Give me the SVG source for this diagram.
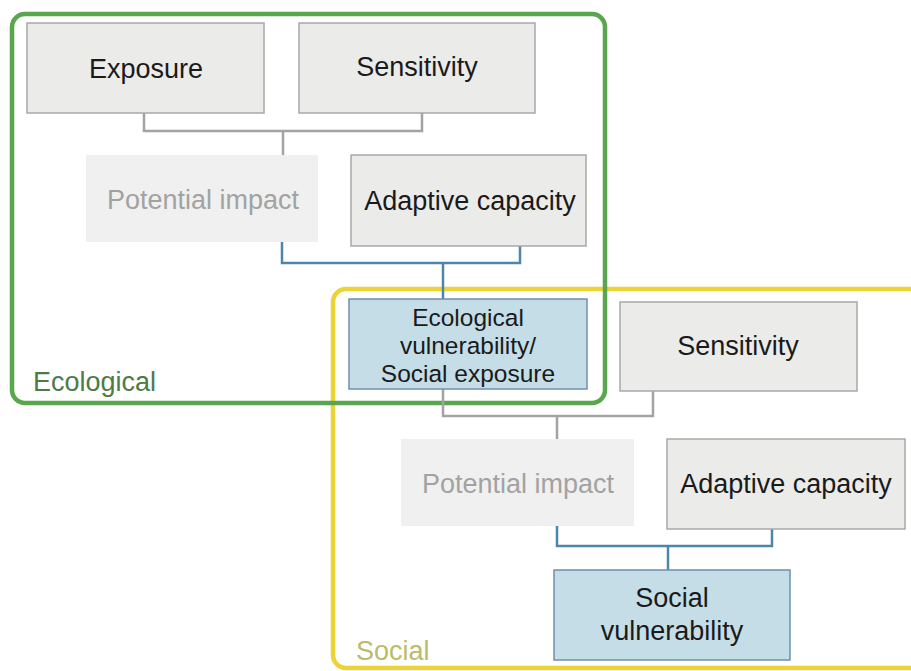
<svg xmlns="http://www.w3.org/2000/svg" width="911" height="671" viewBox="0 0 911 671">
<style>
text{font-family:"Liberation Sans",Arial,sans-serif;font-size:27px;text-anchor:middle;fill:#1a1a1a}
.box{fill:#ebebea;stroke:#a8a8a8;stroke-width:1.5}
.pot{fill:#f0f0f0;stroke:none}
.pot-t{fill:#a2a2a2}
.vul{fill:#c5dde6;stroke:#6e90b0;stroke-width:1.5}
.cg{fill:none;stroke:#a3a3a3;stroke-width:2.5}
.cb{fill:none;stroke:#4e86a8;stroke-width:2.5}
.frame{fill:none;stroke-width:4.5}
.tight{font-size:24.5px}
</style>
<rect width="911" height="671" fill="#ffffff"/>
<g id="social-frame">
<rect class="frame" x="333" y="289" width="600" height="379" rx="13" stroke="#ecd336"/>
<text x="356" y="660" style="text-anchor:start;fill:#bcbb6a">Social</text>
</g>
<g id="ecological-frame">
<rect class="frame" x="12" y="14" width="593" height="389" rx="13" stroke="#5aa64e"/>
<text x="33" y="391" style="text-anchor:start;fill:#4e7b45">Ecological</text>
</g>
<g id="connectors">
<polyline class="cg" points="144,113 144,131 422,131 422,113"/>
<line class="cg" x1="283" y1="131" x2="283" y2="155"/>
<polyline class="cb" points="282,242 282,263 520,263 520,246"/>
<line class="cb" x1="443" y1="263" x2="443" y2="299"/>
<polyline class="cg" points="443,389 443,416 653,416 653,391"/>
<line class="cg" x1="557" y1="416" x2="557" y2="439"/>
<polyline class="cb" points="557,526 557,546 772,546 772,529"/>
<line class="cb" x1="668" y1="546" x2="668" y2="570"/>
</g>
<g id="exposure">
<rect class="box" x="27" y="23" width="237" height="90"/>
<text x="146" y="78">Exposure</text>
</g>
<g id="sensitivity-eco">
<rect class="box" x="299" y="23" width="236" height="90"/>
<text x="417" y="76">Sensitivity</text>
</g>
<g id="potential-impact-eco">
<rect class="pot" x="86" y="155" width="232" height="87"/>
<text class="pot-t" x="203" y="209">Potential impact</text>
</g>
<g id="adaptive-capacity-eco">
<rect class="box" x="351" y="155" width="235" height="91"/>
<text x="470" y="210">Adaptive capacity</text>
</g>
<g id="ecological-vulnerability">
<rect class="vul" x="349" y="299" width="238" height="90"/>
<text class="tight" x="468" y="326">Ecological</text>
<text class="tight" x="468" y="354">vulnerability/</text>
<text class="tight" x="468" y="382">Social exposure</text>
</g>
<g id="sensitivity-social">
<rect class="box" x="620" y="302" width="237" height="89"/>
<text x="738" y="355">Sensitivity</text>
</g>
<g id="potential-impact-social">
<rect class="pot" x="401" y="439" width="233" height="87"/>
<text class="pot-t" x="518" y="493">Potential impact</text>
</g>
<g id="adaptive-capacity-social">
<rect class="box" x="667" y="439" width="238" height="90"/>
<text x="786" y="493">Adaptive capacity</text>
</g>
<g id="social-vulnerability">
<rect class="vul" x="554" y="570" width="236" height="90"/>
<text x="672" y="607">Social</text>
<text x="672" y="640">vulnerability</text>
</g>
</svg>
